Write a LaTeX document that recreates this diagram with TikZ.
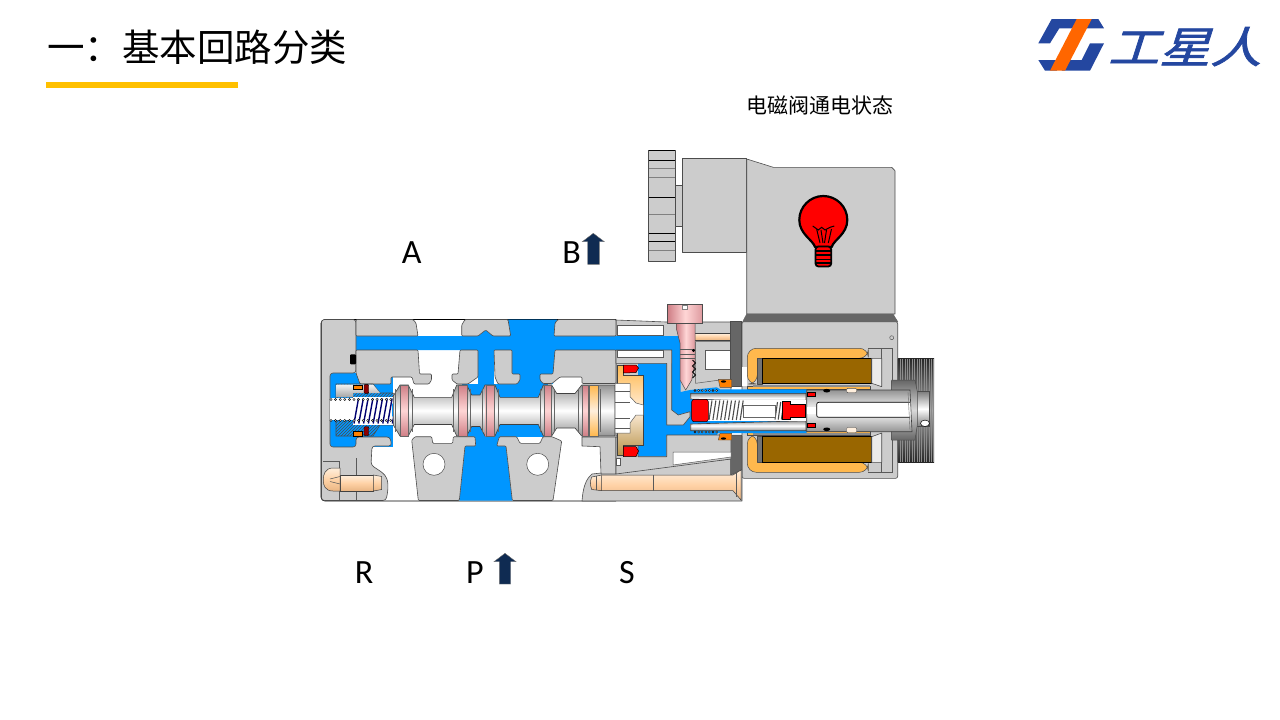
\documentclass[tikz,border=0pt]{standalone}
\usepackage{fontspec}
\setmainfont{Carlito}
\newfontfamily\cjkfont{Noto Sans CJK SC}
\newfontfamily\logofont[FakeBold=1.5]{Noto Sans CJK SC}
\usetikzlibrary{calc,patterns}
\definecolor{valvegray}{HTML}{CCCCCC}
\definecolor{valveblue}{HTML}{0096FF}
\definecolor{shellorange}{HTML}{FFB84D}
\definecolor{coilbrown}{HTML}{996600}
\definecolor{sealred}{HTML}{FF0000}
\definecolor{darkgray}{HTML}{666666}
\definecolor{logoblue}{HTML}{2447A0}
\definecolor{logoorange}{HTML}{FF6600}
\definecolor{arrownavy}{HTML}{0F2B52}
\definecolor{barorange}{HTML}{FFC000}
\definecolor{boltlight}{HTML}{FFEFDD}
\definecolor{boltmid}{HTML}{FFD2A6}
\definecolor{boltdark}{HTML}{E9B583}
\definecolor{pinklight}{HTML}{FFD6D6}
\definecolor{pinkdark}{HTML}{CF7F86}
\tikzset{
	part/.style={fill=valvegray,draw=black!70,line width=0.6pt,line join=round},
	flow/.style={fill=valveblue,draw=none},
	thinline/.style={draw=black!65,line width=0.5pt},
	steel/.style={top color=black!42,bottom color=black!42,middle color=white,draw=black!75,line width=0.6pt},
	pinkband/.style={top color=pinkdark,bottom color=pinkdark,middle color=pinklight,draw=black!60,line width=0.4pt},
	brass/.style={top color=boltlight,bottom color=boltdark,middle color=boltmid,draw=black!75,line width=0.5pt},
	sealpart/.style={fill=sealred,draw=black,line width=0.5pt},
	shell/.style={fill=shellorange,draw=black!70,line width=0.5pt},
	coil/.style={fill=coilbrown,draw=black,line width=0.6pt},
	portlabel/.style={anchor=base,font=\fontsize{34}{36}\selectfont,text=black},
	uparrow/.style={fill=arrownavy,draw=black!55,line width=0.4pt,line join=miter}
}
\begin{document}
\begin{tikzpicture}[inner sep=0pt,outer sep=0pt,x=1pt,y=-1pt]
	\useasboundingbox (0,0) rectangle (1280,720);

	% title
	\node[anchor=base west] (title) at (47,61) {\cjkfont\fontsize{37.5}{40}\selectfont 一：基本回路分类};
	\fill[barorange] (46,82) rectangle (238,87.7);

	% logo
	\fill[logoblue] (1038.3,43.3) -- (1051.7,19) -- (1080,19) -- (1074.3,28.3) -- (1059.3,28.3) -- (1050,43.3) -- cycle;
	\fill[logoblue] (1086,19) -- (1098.3,19) -- (1104,28.3) -- (1083,28.3) -- cycle;
	\fill[logoblue] (1038.3,60) -- (1060,60) -- (1056.7,70.7) -- (1045,70.7) -- cycle;
	\fill[logoblue] (1090,43.3) -- (1104,43.3) -- (1090,70.7) -- (1061.7,70.7) -- (1067.3,60) -- (1081.7,60) -- cycle;
	\fill[logoorange] (1076.7,19) -- (1091.7,19) -- (1065,70.7) -- (1050,70.7) -- cycle;
	\node[anchor=base west,text=logoblue,xslant=0.32,xscale=1.19,transform shape] (logo_text) at (1108,63)
	{\logofont\fontsize{43}{45}\selectfont 工星人};

	% caption
	\node[anchor=base] (state_cap) at (820,113) {\cjkfont\fontsize{21}{23}\selectfont 电磁阀通电状态};

	% port labels
	\node[portlabel] (port_a) at (411.7,263.7) {A};
	\node[portlabel] (port_b) at (571.7,263.7) {B};
	\node[portlabel] (port_r) at (364,583.7) {R};
	\node[portlabel] (port_p) at (475,583.7) {P};
	\node[portlabel] (port_s) at (627,583.7) {S};
	\draw[uparrow] (593.3,233.3) -- (604.3,241.7) -- (599.3,241.7) -- (599.3,264.3) -- (587.7,264.3) -- (587.7,241.7) -- (582.3,241.7) -- cycle;
	\draw[uparrow] (505,553.3) -- (516,561.7) -- (510.7,561.7) -- (510.7,584) -- (499.3,584) -- (499.3,561.7) -- (494,561.7) -- cycle;

	% connector head
	\draw[part] (648.7,150) rectangle (675,261.7);
	\foreach \ky in {160,197.3,233.3,241.7,150} {\draw[black,line width=0.7pt] (648.7,\ky) -- (675,\ky);}
	\foreach \ky in {168.3,177.7,214,250} {\draw[black!50,line width=0.9pt] (648.7,\ky) -- (675,\ky);}
	\draw[part] (675,185) rectangle (682.3,226.7);
	\draw[part] (682.3,158.3) rectangle (746.7,252.7);
	\draw[part] (746.7,159) -- (773.3,167.3) -- (891.7,167.3) -- (895,170.7) -- (895,314) -- (746.7,314) -- cycle;

	% bulb
	\draw[fill=sealred,draw=black,line width=2.2pt,line join=round] (815,247) .. controls (813,240) and (799.3,234) .. (799.3,220)
		.. controls (799.3,206.8) and (810.1,196) .. (823.3,196) .. controls (836.5,196) and (847.3,206.8) .. (847.3,220)
		.. controls (847.3,234) and (833.6,240) .. (831.7,247) -- cycle;
	\draw[fill=sealred,draw=black,line width=1.8pt,rounded corners=3pt] (815.5,246.5) -- (815.5,266.5) -- (831.2,266.5) -- (831.2,246.5) -- cycle;
	\foreach \ky in {251,255,259.5,263} {\draw[black,line width=1.1pt] (815.5,\ky) -- (831.2,\ky);}
	\draw[black,line width=1pt] (812.7,226) -- (818.3,230) -- (821.7,227.3) -- (825,230) -- (830,227.3) -- (834.3,226);
	\draw[black,line width=1pt] (816.7,229.3) -- (820,243) (821,230) -- (823,243) (831.5,229) -- (828.3,243) (826.5,230) -- (824.5,243);

	% valve body
	\fill[white,rounded corners=4pt] (321,319.5) rectangle (742,501);
	\draw[black,line width=0.8pt,rounded corners=4pt] (616,319.5) -- (321,319.5) -- (321,501) -- (616,501);

	% manual knob
	\shade[top color=black!85,bottom color=black!85,middle color=black!35] (897.7,358.5) rectangle (934,462);
	\foreach \kx in {900,902.4,...,934} {\draw[black!45,line width=0.3pt] (\kx,358.5) -- (\kx,462);}
	\shade[top color=black!50,bottom color=black!50,middle color=white,draw=black!70,line width=0.5pt] (915,391.7) rectangle (929.3,426);

	% solenoid housing
	\fill[darkgray,draw=black!60,line width=0.5pt] (746.7,314) -- (893,314) -- (897.7,321.7) -- (742.7,321.7) -- cycle;
	\draw[part,rounded corners=2pt] (742,321.7) -- (897.7,321.7) -- (897.7,478.3) -- (742,478.3) -- cycle;
	\draw[thinline] (891.7,337.7) circle[radius=2];
	\draw[shell,rounded corners=9pt] (747.3,384) -- (747.3,348.3) -- (868.3,348.3) -- (868.3,358.3) -- (757.3,358.3) -- (757.3,384) -- cycle;
	\draw[shell,rounded corners=9pt] (747.3,435) -- (747.3,472.3) -- (868.3,472.3) -- (868.3,462.3) -- (757.3,462.3) -- (757.3,435) -- cycle;
	\draw[part,fill=black!55] (757.3,358.3) rectangle (762.3,384);
	\draw[part,fill=black!55] (757.3,436.7) rectangle (762.3,462.3);
	\draw[coil] (762.3,358.3) rectangle (871.7,383.3);
	\draw[coil] (762.3,436.7) rectangle (871.7,462.3);
	\draw[part,fill=black!8] (871.7,358.3) -- (881.7,358.3) -- (881.7,386.7) -- (871.7,383.3) -- cycle;
	\draw[part,fill=black!8] (871.7,462.3) -- (881.7,462.3) -- (881.7,433) -- (871.7,436.7) -- cycle;
	\draw[thinline] (868.3,348.3) -- (892.3,348.3) -- (892.3,380) (881.7,348.3) -- (881.7,358.3) (868.3,472.3) -- (892.3,472.3) -- (892.3,440) (881.7,472.3) -- (881.7,462.3);
	\draw[shell,line width=0.3pt] (747,386) rectangle (870,389.3);
	\draw[shell,line width=0.3pt] (747,431) rectangle (870,435);
	\fill[black!45] (753,385) rectangle (870,387);
	\fill[black!45] (753,432.5) rectangle (870,434.5);

	% right block
	\draw[part] (616,320) -- (666,322) -- (731,322) -- (731,459) -- (592,474) .. controls (586,479) and (583,487) .. (582,501) -- (742,501) -- (742,436) -- (731,436) -- (616,436) -- cycle;
	\draw[part] (582,437) -- (616,437) -- (616,474) -- (601,474) -- (600,446.7) -- (582,446) -- cycle;
	\draw[fill=white,thinline] (617,325) rectangle (663,335);
	\draw[brass] (688.3,333.3) rectangle (730.7,340);
	\draw[fill=white,thinline] (705.3,350) rectangle (730.7,369.3);
	\draw[thinline] (695.7,341.5) -- (730.7,341.5) (695.7,341.5) -- (695.7,383.3) -- (720,380);
	\fill[darkgray,draw=black!70,line width=0.5pt] (730.7,321.7) rectangle (741.7,386);
	\fill[darkgray,draw=black!70,line width=0.5pt] (730.7,435) -- (741.7,435) -- (741.7,470) -- (730.7,475) -- cycle;
	\fill[white] (741.9,366.7) rectangle (746.7,386);

	% flow paths
	\fill[flow] (330,373) rectangle (393,447);
	\fill[flow] (356,336) -- (478,336) -- (485.7,330) -- (493,336) -- (680.7,336) -- (680.7,350) -- (356,350) -- cycle;
	\fill[flow] (478,336) rectangle (494,384);
	\fill[flow] (508,319.5) -- (557,319.5) -- (553,384) -- (512,384) -- cycle;
	\fill[flow] (462,384) rectangle (548,437);
	\fill[flow] (475,437) -- (499,437) -- (497,446) -- (506,446) -- (512.3,500.5) -- (459.3,500.5) -- (465,446) -- (475.7,446) -- cycle;
	\fill[flow] (672,336) -- (680.7,336) -- (680.7,392) -- (690,390) -- (716.7,387.3) -- (720,389.3) -- (806.7,389.3) -- (806.7,433) -- (718,433) -- (716.7,435)
		-- (666.7,435) -- (666.7,456.7) -- (638,456.7) -- (638,363.3) -- (672,363.3) -- cycle;

	% left cap and lands
	\draw[part,rounded corners=3pt] (356,319.5) -- (356,373) -- (330,373) -- (330,447) -- (356,447) -- (356,437) -- (390,437) -- (391.7,446) -- (372,446) -- (371,465)
		-- (383,473) .. controls (388,479) and (389,486) .. (386,500.5) -- (321.5,500.5) -- (321.5,319.5) -- cycle;
	\draw[part,rounded corners=1pt] (356,319.5) -- (413,319.5) -- (416,323) -- (418,336) -- (356,336) -- cycle;
	\draw[part,rounded corners=1pt] (356,350) -- (418,350) -- (419.5,374) -- (431.5,374) -- (431.5,380) -- (429,384) -- (414,384) -- (412,377) -- (391,377) -- (391,384) -- (360,384) -- (356,373) -- cycle;
	\draw[part,rounded corners=1pt] (461.7,336) -- (461.7,325) -- (465,319.5) -- (508,319.5) -- (510.7,336) -- (493,336) -- (485.7,330) -- (478,336) -- cycle;
	\draw[part,rounded corners=1pt] (460,350) -- (478,350) -- (478,377) -- (468,384) -- (457,384) -- (452,380) -- (452,374) -- (458,374) -- cycle;
	\draw[part,rounded corners=1pt] (494,350) -- (512,350) -- (512,374) -- (520,374) -- (520,380) -- (517,384) -- (498,384) -- (495,377) -- cycle;
	\draw[part,rounded corners=1pt] (555,323) -- (558,319.5) -- (616,319.5) -- (616,336) -- (554,336) -- cycle;
	\draw[part,rounded corners=1pt] (555,350) -- (616,350) -- (616,383.5) -- (582,383.5) -- (582,377) -- (560,377) -- (552,383.5) -- (543,383.5) -- (540,380) -- (540,374) -- (553,374) -- cycle;
	\draw[part,rounded corners=1pt] (411.7,440) -- (415,436.7) -- (431.7,436.7) -- (432.7,443.3) -- (452.7,443.3) -- (453.3,436.7) -- (475,436.7) -- (475.7,446) -- (465,446) -- (459.3,500.5) -- (418.3,500.5) -- cycle;
	\draw[part,rounded corners=1pt] (496.7,446) -- (499.3,436.7) -- (516.7,436.7) -- (520,443.3) -- (540,443.3) -- (543,436.7) -- (552,436.7) -- (561.7,441) -- (553,500.5) -- (512.3,500.5) -- (506,446) -- cycle;
	\draw[fill=white,draw=black!70,line width=0.5pt] (434,464.3) circle[radius=11];
	\draw[fill=white,draw=black!70,line width=0.5pt] (537.7,464.3) circle[radius=11];
	\draw[part] (616,350) -- (671.7,350) -- (671.7,410) -- (678.3,415) -- (690,411.7) -- (690,416.7) -- (683.3,425) -- (666.7,425) -- (666.7,363.3) -- (616,363.3) -- cycle;
	\draw[fill=white,thinline] (617,350) rectangle (663,357);
	\draw[part] (616,437) -- (638,437) -- (638,456.7) -- (666.7,456.7) -- (666.7,435) -- (731,435) -- (731,459) -- (616,474) -- cycle;
	\draw[fill=white,thinline] (673,452) -- (731,452) -- (731,457) -- (673,465) -- cycle;
	\draw[fill=white,thinline] (616,458) rectangle (620,465);
	\draw[thinline] (323,461.5) -- (339,461.5) -- (339,500) (356,458) -- (356,500);
	\fill[black,rounded corners=1pt] (350,354.3) rectangle (356,364.3);

	% left plug
	\draw[part,fill=black!40,pattern=north east lines,pattern color=black!70] (336,384) -- (373,384) -- (380,393) -- (393,393) -- (397,400) -- (397,420) -- (393,425) -- (380,425) -- (373,436) -- (336,436) -- cycle;
	\shade[top color=black!5,bottom color=black!35] (336.5,384.5) -- (373,384.5) -- (380,393) -- (353,393) -- (353,397) -- (336.5,397) -- cycle;
	\fill[white] (330,398) rectangle (353,420);
	\fill[white] (353,397) rectangle (394,424.5);
	\fill[flow] (392,403) -- (397,410) -- (392,417) -- cycle;
	\foreach \sx in {0,...,8} {\draw[black!20!blue!55!black,line width=1.4pt] ($(354,423.5)+(4.8*\sx,0)$) -- ($(358.5,398.5)+(4.8*\sx,0)$);}
	\foreach \sx in {0,...,13} {
		\draw[fill=white,draw=black,line width=0.4pt] ($(331,399.5)+(4.6*\sx,0)$) circle[radius=1.1];
		\draw[fill=white,draw=black,line width=0.4pt] ($(331,420.5)+(4.6*\sx,0)$) circle[radius=1.1];
	}
	\draw[fill=orange,draw=black,line width=0.4pt] (353.3,384.7) rectangle (361.7,389.3);
	\draw[fill=orange,draw=black,line width=0.4pt] (353.3,431) rectangle (361.7,435.7);
	\draw[fill=red!55!black,draw=black,line width=0.4pt,rounded corners=1pt] (364,384.3) rectangle (368.7,393.3);
	\draw[fill=red!55!black,draw=black,line width=0.4pt,rounded corners=1pt] (364,426.7) rectangle (368.7,435.7);

	% spool
	\draw[steel] (393.3,410.7) -- (393.3,396) -- (400,385) -- (408.3,385) -- (414.3,397.3) -- (451.7,397.3) -- (456.7,385) -- (466.7,385) -- (471.7,395) -- (480,395) -- (485,385) -- (495,385)
		-- (500,397.3) -- (538.3,397.3) -- (543.3,385) -- (551.7,385) -- (556.7,393.5) -- (575,393.5) -- (581.7,385) -- (615,385) -- (615,436)
		-- (581.7,436) -- (575,428) -- (556.7,428) -- (551.7,436) -- (543.3,436) -- (538.3,424.5) -- (500,424.5) -- (495,436) -- (485,436) -- (480,426.5) -- (471.7,426.5) -- (466.7,436) -- (456.7,436)
		-- (451.7,424.5) -- (414.3,424.5) -- (408.3,436) -- (400,436) -- (393.3,425) -- cycle;
	\foreach \lx/\rx in {400/408.3,458.3/466.7,485.7/494,544/550.7,582.3/587.7} {\draw[pinkband] (\lx,385) rectangle (\rx,436);}
	\shade[top color=shellorange,bottom color=shellorange,middle color=boltlight,draw=black!60,line width=0.4pt] (589.3,385) rectangle (598.3,436);
	\foreach \lx in {395,412,453.5,470,482,498,540.5,554,578,600} {\draw[black!60,line width=0.4pt] (\lx,389) -- (\lx,432);}

	% piston
	\draw[brass,top color=shellorange,bottom color=coilbrown!70,middle color=boltlight] (617.7,365) -- (623,365) -- (623,375) -- (643.3,375) -- (643.3,445) -- (623,445) -- (623,455) -- (617.7,455) -- cycle;
	\draw[fill=white,thinline] (615,383.5) -- (630,383.5) -- (630,396.7) -- (636,403) -- (643.3,405) -- (643.3,415) -- (636,415) -- (630,423) -- (630,433) -- (615,433) -- cycle;
	\draw[thinline] (615,391) -- (630,391) (615,402) -- (630,402) (615,418) -- (630,418) (615,428) -- (630,428);
	\draw[sealpart] (623.3,365) -- (636,365) -- (638.5,368) -- (636,372.5) -- (623.3,373) -- cycle;
	\draw[sealpart] (623.3,446.7) -- (636,446.7) -- (638.5,451) -- (636,456.7) -- (623.3,456.7) -- cycle;

	% pilot screw
	\draw[left color=pinkdark,right color=pinkdark!70!pinklight,middle color=pinklight,draw=black!70,line width=0.5pt] (676.7,323.3) -- (695,323.3) -- (695,363) -- (691.7,380) -- (685.7,390) -- (680,380) -- (680,343) -- (676.7,330) -- cycle;
	\draw[left color=pinkdark,right color=pinkdark!70!pinklight,middle color=pinklight,draw=black!70,line width=0.5pt] (667.7,304.7) rectangle (702.7,323.3);
	\draw[fill=white,draw=black!50,line width=0.4pt] (682.5,304.7) rectangle (687,309.5);
	\draw[thinline] (680,349) -- (695,349) (680,354) -- (695,354) (680,358) -- (695,358);
	\draw[black,line width=0.8pt] (692.5,360) -- (695.5,363) -- (692.5,366) -- (695.5,369) -- (692.5,372) -- (695.5,375) -- (692.5,378);
	\fill[black] (693.5,350.5) circle[radius=1.6];

	% override ring
	\shade[top color=black!60,bottom color=black!60,middle color=black!15,draw=black!70,line width=0.5pt] (891.7,380) -- (915,380) -- (917.3,391.7) -- (917.3,425) -- (915,440) -- (891.7,440) -- cycle;
	\draw[fill=white,draw=black,line width=0.5pt] (925,423.3) ellipse[x radius=4.5,y radius=3.2];

	% armature
	\draw[steel] (806.7,390) -- (910,390) -- (912,431.7) -- (806.7,431.7) -- cycle;
	\draw[fill=white,draw=black,line width=0.7pt,rounded corners=2pt] (910,402.3) -- (816.7,402.3) -- (816.7,417.3) -- (910,417.3);
	\fill[white] (806.7,406.7) rectangle (816,414);
	\draw[sealpart] (807.3,392.7) rectangle (815.7,396.7);
	\draw[sealpart] (807.3,423.3) rectangle (815.7,427.7);
	\fill[black] (826.7,390.7) ellipse[x radius=3.5,y radius=1.8];
	\fill[black] (826.7,429.3) ellipse[x radius=3.5,y radius=1.8];
	\draw[fill=boltlight,draw=black!70,line width=0.4pt,rounded corners=1pt] (846.7,388.3) rectangle (856.7,392.7);
	\draw[fill=boltlight,draw=black!70,line width=0.4pt,rounded corners=1pt] (846.7,427.5) rectangle (856.7,432.7);
	\draw[black!60,line width=0.4pt] (908,392) -- (910,430);

	% plunger tube
	\draw[steel] (690.7,393.3) -- (806,393.3) -- (806,403) -- (690.7,399) -- cycle;
	\draw[steel] (690.7,424) -- (806,420.7) -- (806,430.7) -- (690.7,430.7) -- cycle;
	\fill[white] (708,400) rectangle (805.5,420.5);
	\foreach \sx in {0,...,8} {\draw[black!70,line width=1.1pt] ($(709,420)+(3.9*\sx,0)$) -- ($(712,400.5)+(3.9*\sx,0)$);}
	\foreach \sx in {0,1,2} {\draw[black!70,line width=1.1pt] ($(775,419.5)+(3.2*\sx,0)$) -- ($(777.5,402)+(3.2*\sx,0)$);}
	\draw[fill=white,draw=black!60,line width=0.4pt] (743.3,405) rectangle (775,416.7);
	\draw[sealpart,rounded corners=2.5pt] (691.7,399.3) -- (708.3,399.3) -- (708.3,421.7) -- (691.7,421.7) -- cycle;
	\draw[sealpart] (782.7,401.7) -- (790.7,401.7) -- (790.7,404) -- (805,404) -- (805,417.3) -- (790.7,417.3) -- (790.7,419.3) -- (782.7,419.3) -- cycle;

	% flange and outer spring
	\draw[fill=orange,draw=black!70,line width=0.4pt] (718.3,379.3) -- (731.7,379.3) -- (731.7,387.3) -- (720,387.3) -- cycle;
	\draw[fill=orange,draw=black!70,line width=0.4pt] (718.3,440) -- (731.7,440) -- (731.7,433.3) -- (720,433.3) -- cycle;
	\fill[black] (723.5,381.5) ellipse[x radius=2.5,y radius=1.2];
	\fill[black] (723.5,438.5) ellipse[x radius=2.5,y radius=1.2];
	\foreach \sx in {0,...,6} {
		\draw[fill=white,draw=black,line width=0.4pt] ($(695,390.5)+(3.6*\sx,0)$) circle[radius=1];
		\draw[fill=white,draw=black,line width=0.4pt] ($(695,432)+(3.6*\sx,0)$) circle[radius=1];
	}

	% long bolt
	\draw[brass] (591.7,477) -- (601.7,475) -- (601.7,490.7) -- (591.7,489.5) .. controls (590,485) and (590,481) .. (591.7,477) -- cycle;
	\draw[brass] (601.7,475) -- (733,475) -- (741,470) -- (741,500) -- (733,490.7) -- (601.7,490.7) -- cycle;
	\draw[thinline] (596,476) -- (596,490) (653.5,475) -- (653.5,490.7) (736,472.5) -- (736,497);

	% small screw
	\draw[brass] (340,475) -- (373.3,475) -- (373.3,491) -- (340,491) -- cycle;
	\draw[brass] (373.3,475) -- (381.7,476.5) -- (381.7,489.5) -- (373.3,491) -- cycle;
	\draw[brass] (340,468) -- (333,468) .. controls (325,468) and (323,475) .. (323.3,480) .. controls (323,485) and (325,491) .. (333,491) -- (340,491) -- cycle;
	\draw[thinline] (330,479) -- (340,476.5) (330,481.5) -- (340,484);
\end{tikzpicture}
\end{document}
